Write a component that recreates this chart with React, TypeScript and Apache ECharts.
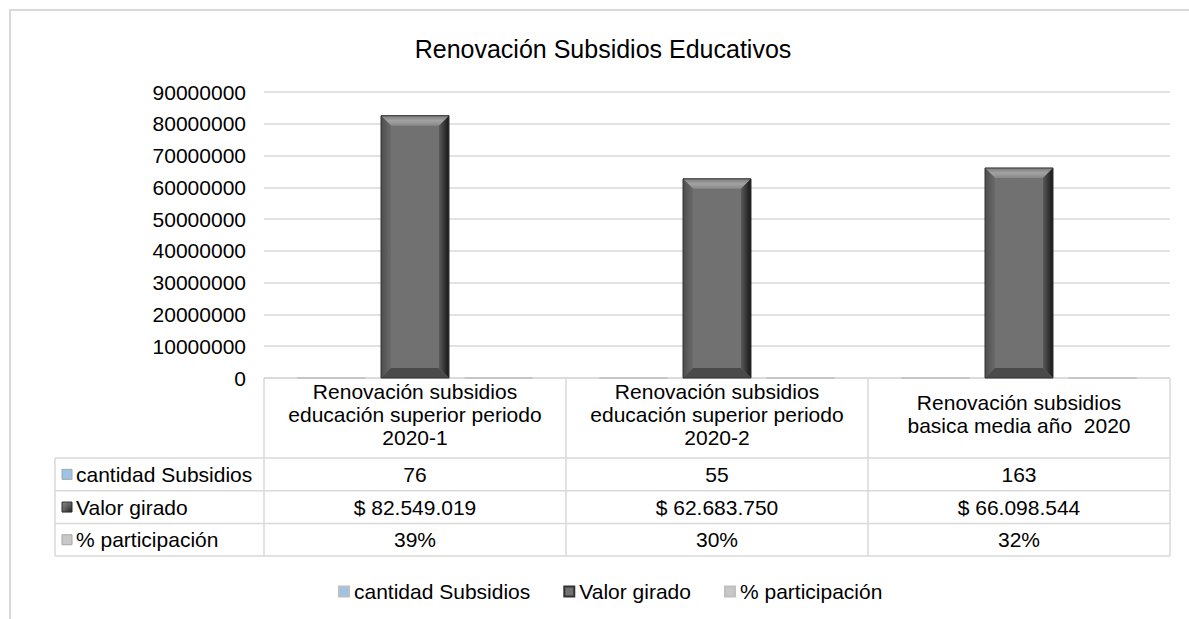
import React, { useEffect, useRef } from "react";
import * as echarts from "echarts";

const categories = [
  "Renovación subsidios\neducación superior periodo\n2020-1",
  "Renovación subsidios\neducación superior periodo\n2020-2",
  "Renovación subsidios\nbasica media año  2020",
];
const seriesNames = ["cantidad Subsidios", "Valor girado", "% participación"];
const cantidadSubsidios = [76, 55, 163];
const valorGirado = [82549019, 62683750, 66098544];
const participacion = [0.39, 0.3, 0.32];
const yMax = 90000000;
const yInterval = 10000000;

const FONT = "'Liberation Sans', Arial, sans-serif";
const GRID_LINE = "#d9d9d9";
const BAR_W = 68;
const BEVEL = 10;

const darkGradient = () =>
  new echarts.graphic.LinearGradient(0, 0, 1, 1, [
    { offset: 0, color: "#8a8a8a" },
    { offset: 0.5, color: "#5e5e5e" },
    { offset: 1, color: "#1f1f1f" },
  ]);

const fmtMoney = (v: number) =>
  "$ " + String(v).replace(/\B(?=(\d{3})+(?!\d))/g, ".");
const fmtPct = (v: number) => Math.round(v * 100) + "%";

export default function App() {
  const ref = useRef<HTMLDivElement>(null);

  useEffect(() => {
    if (!ref.current) return;
    const chart = echarts.init(ref.current, null, { renderer: "svg" });

    const bevelRender = (params: any, api: any) => {
      const idx = api.value(0);
      const val = api.value(1);
      const top = api.coord([idx, val]);
      const base = api.coord([idx, 0]);
      const cx = top[0];
      const t = top[1];
      const bt = base[1];
      const l = cx - BAR_W / 2;
      const r = cx + BAR_W / 2;
      const b = BEVEL;
      return {
        type: "group",
        children: [
          {
            type: "polygon",
            shape: { points: [[l, t], [r, t], [r - b, t + b], [l + b, t + b]] },
            style: {
              fill: new echarts.graphic.LinearGradient(0, 0, 0, 1, [
                { offset: 0, color: "#7a7a7a" },
                { offset: 0.5, color: "#a3a3a3" },
                { offset: 1, color: "#888888" },
              ]),
            },
          },
          {
            type: "polygon",
            shape: { points: [[l, t], [l + b, t + b], [l + b, bt - b], [l, bt]] },
            style: {
              fill: new echarts.graphic.LinearGradient(0, 0, 1, 0, [
                { offset: 0, color: "#4d4d4d" },
                { offset: 1, color: "#6a6a6a" },
              ]),
            },
          },
          {
            type: "polygon",
            shape: { points: [[r, t], [r, bt], [r - b, bt - b], [r - b, t + b]] },
            style: {
              fill: new echarts.graphic.LinearGradient(0, 0, 1, 0, [
                { offset: 0, color: "#5a5a5a" },
                { offset: 1, color: "#161616" },
              ]),
            },
          },
          {
            type: "polygon",
            shape: { points: [[l, bt], [l + b, bt - b], [r - b, bt - b], [r, bt]] },
            style: { fill: "#4a4a4a" },
          },
          {
            type: "rect",
            shape: { x: l, y: t, width: BAR_W, height: bt - t },
            style: { fill: "none", stroke: "#333333", lineWidth: 1 },
          },
        ],
      };
    };

    const option: any = {
      animation: false,
      textStyle: { fontFamily: FONT },
      title: {
        text: "Renovación Subsidios Educativos",
        left: 598,
        top: 31,
        textAlign: "center",
        textStyle: { fontSize: 25, fontWeight: "normal", color: "#000", fontFamily: FONT },
      },
      legend: {
        data: seriesNames.map((n) => ({ name: n, icon: "rect" })),
        top: 576,
        left: 333,
        itemWidth: 10,
        itemHeight: 10,
        itemGap: 33,
        textStyle: { fontSize: 21, color: "#000", fontFamily: FONT },
      },
      grid: { left: 264, right: 19, top: 92, bottom: 241, containLabel: false },
      xAxis: {
        type: "category",
        data: categories,
        axisLine: { show: false },
        axisTick: { show: false },
        axisLabel: {
          interval: 0,
          fontSize: 21,
          lineHeight: 23,
          color: "#000",
          verticalAlign: "middle",
          margin: 36,
          fontFamily: FONT,
        },
      },
      yAxis: {
        type: "value",
        min: 0,
        max: yMax,
        interval: yInterval,
        axisLine: { show: false },
        axisTick: { show: false },
        axisLabel: {
          fontSize: 21,
          color: "#000",
          margin: 18,
          fontFamily: FONT,
          formatter: (v: number) => String(v),
        },
        splitLine: { lineStyle: { color: GRID_LINE, width: 1.5 } },
      },
      series: [
        {
          name: seriesNames[0],
          type: "bar",
          data: cantidadSubsidios,
          barWidth: BAR_W,
          barGap: "23%",
          itemStyle: { color: "#9dc3e6", borderColor: "#bfbfbf", borderWidth: 1 },
        },
        {
          name: seriesNames[1],
          type: "bar",
          data: valorGirado,
          barWidth: BAR_W,
          barGap: "23%",
          itemStyle: { color: "#717171", borderColor: "#333333", borderWidth: 1 },
        },
        {
          name: seriesNames[2],
          type: "bar",
          data: participacion,
          barWidth: BAR_W,
          barGap: "23%",
          itemStyle: { color: "#c8c8c8", borderColor: "#bfbfbf", borderWidth: 1 },
        },
        {
          name: "bevel",
          type: "custom",
          silent: true,
          z: 5,
          data: valorGirado.map((v, i) => [i, v]),
          encode: { x: 0, y: 1 },
          renderItem: bevelRender,
        },
      ],
    };
    chart.setOption(option);

    const centers = categories.map((_, i) => chart.convertToPixel({ xAxisIndex: 0 }, i) as number);
    const band = centers[1] - centers[0];
    const y0 = chart.convertToPixel({ yAxisIndex: 0 }, 0) as number;
    const headerH = 80;
    const rowH = 32.7;
    const leftX = 55;
    const firstX = centers[0] - band / 2;
    const lastX = centers[centers.length - 1] + band / 2;
    const rowTop = y0 + headerH;
    const rows = [
      { name: seriesNames[0], values: cantidadSubsidios.map(String), icon: { fill: "#9dc3e6", stroke: "#a6a6a6" } },
      { name: seriesNames[1], values: valorGirado.map(fmtMoney), icon: { fill: darkGradient(), stroke: "#2e2e2e" } },
      { name: seriesNames[2], values: participacion.map(fmtPct), icon: { fill: "#c8c8c8", stroke: "#a6a6a6" } },
    ];
    const tableBottom = rowTop + rowH * rows.length;
    const lineStyle = { stroke: GRID_LINE, lineWidth: 1.5 };
    const els: any[] = [];
    els.push({
      type: "rect",
      silent: true,
      shape: { x: 10, y: 10, width: 1200, height: 640 },
      style: { fill: "none", stroke: GRID_LINE, lineWidth: 2 },
    });
    els.push({ type: "line", silent: true, shape: { x1: firstX, y1: y0, x2: lastX, y2: y0 }, style: lineStyle });
    for (let r = 0; r <= rows.length; r++) {
      const y = rowTop + rowH * r;
      els.push({ type: "line", silent: true, shape: { x1: leftX, y1: y, x2: lastX, y2: y }, style: lineStyle });
    }
    els.push({ type: "line", silent: true, shape: { x1: leftX, y1: rowTop, x2: leftX, y2: tableBottom }, style: lineStyle });
    for (let i = 0; i <= centers.length; i++) {
      const x = firstX + band * i;
      els.push({ type: "line", silent: true, shape: { x1: x, y1: y0, x2: x, y2: tableBottom }, style: lineStyle });
    }
    rows.forEach((row, r) => {
      const cy = rowTop + rowH * r + rowH / 2;
      els.push({
        type: "rect",
        silent: true,
        shape: { x: 62, y: cy - 5, width: 10, height: 10 },
        style: { fill: row.icon.fill, stroke: row.icon.stroke, lineWidth: 1 },
      });
      els.push({
        type: "text",
        silent: true,
        x: 76,
        y: cy,
        style: { text: row.name, fontSize: 21, fill: "#000", align: "left", verticalAlign: "middle", fontFamily: FONT },
      });
      row.values.forEach((v, i) => {
        els.push({
          type: "text",
          silent: true,
          x: centers[i],
          y: cy,
          style: { text: v, fontSize: 21, fill: "#000", align: "center", verticalAlign: "middle", fontFamily: FONT },
        });
      });
    });
    chart.setOption({ graphic: els });

    return () => chart.dispose();
  }, []);

  return (
    <div
      ref={ref}
      style={{ position: "fixed", left: 0, top: 0, width: 1189, height: 619, background: "#fff" }}
    />
  );
}
